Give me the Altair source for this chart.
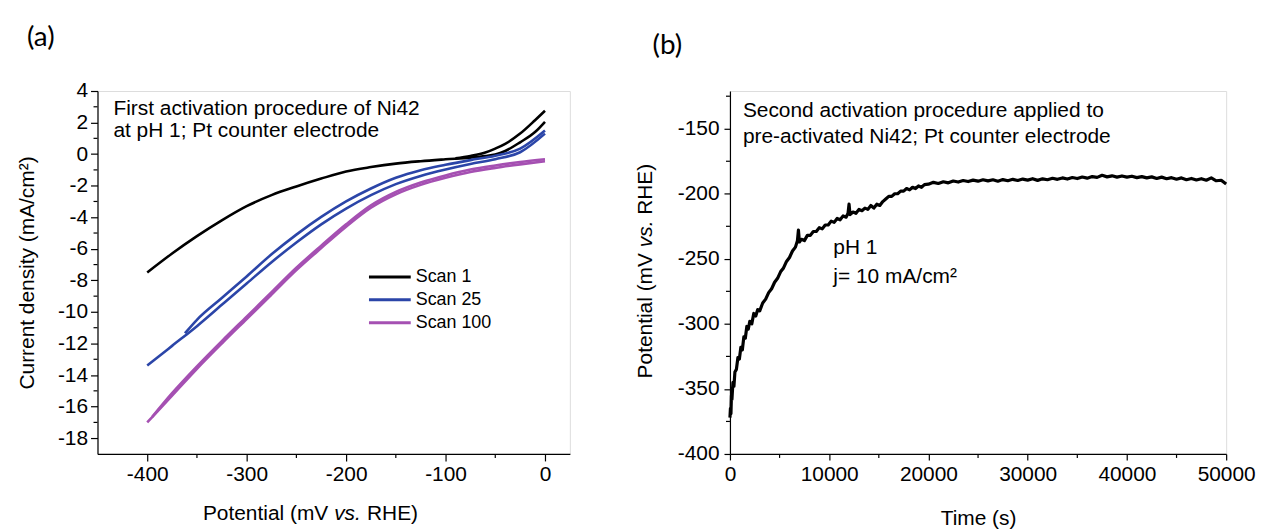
import altair as alt
import pandas as pd

# ---------------- Panel (a): current density vs potential ----------------
scan_names = ["Scan 1", "Scan 25", "Scan 100"]
scan_colors = ["#000000", "#2b45a8", "#a550b2"]

s1_fwd_E = [-400, -375, -350, -325, -300, -275, -250, -225, -200, -175, -150, -125, -100, -75, -60, -50, -40, -25, -10, 0]
s1_fwd_j = [-7.5, -6.3, -5.2, -4.2, -3.3, -2.6, -2.05, -1.55, -1.1, -0.82, -0.6, -0.45, -0.33, -0.22, -0.12, -0.02, 0.2, 0.75, 1.4, 2.05]
s1_rev_E = [0, -10, -25, -40, -50, -60, -75, -90]
s1_rev_j = [2.75, 2.15, 1.3, 0.65, 0.35, 0.1, -0.12, -0.27]

s25_fwd_E = [-400, -375, -350, -325, -300, -275, -250, -225, -200, -175, -150, -125, -100, -75, -50, -25, 0]
s25_fwd_j = [-13.4, -12.15, -10.9, -9.55, -8.2, -6.85, -5.6, -4.45, -3.45, -2.6, -1.9, -1.38, -0.97, -0.62, -0.32, 0.12, 1.3]
s25_rev_E = [0, -25, -50, -75, -100, -125, -150, -175, -200, -225, -250, -275, -300, -325, -350, -362]
s25_rev_j = [1.5, 0.35, -0.1, -0.38, -0.68, -1.02, -1.5, -2.18, -3.0, -3.98, -5.1, -6.35, -7.75, -9.12, -10.5, -11.35]

s100_fwd_E = [-400, -375, -350, -325, -300, -275, -250, -225, -200, -175, -150, -125, -100, -75, -50, -25, 0]
s100_fwd_j = [-17.0, -15.3, -13.6, -12.0, -10.45, -8.9, -7.35, -5.95, -4.6, -3.4, -2.55, -1.95, -1.5, -1.13, -0.87, -0.65, -0.45]
s100_rev_E = [0, -25, -50, -75, -100, -125, -150, -175, -200, -225, -250, -275, -300, -325, -350, -375, -395]
s100_rev_j = [-0.32, -0.5, -0.72, -0.98, -1.35, -1.8, -2.4, -3.25, -4.45, -5.8, -7.2, -8.75, -10.3, -11.85, -13.45, -15.15, -16.65]

a_x_ticks = [-400, -300, -200, -100, 0]
a_x_minor = [-350, -250, -150, -50]
a_y_ticks = [-18, -16, -14, -12, -10, -8, -6, -4, -2, 0, 2, 4]
a_y_minor = [-17, -15, -13, -11, -9, -7, -5, -3, -1, 1, 3]
a_note = ["First activation procedure of Ni42", "at pH 1; Pt counter electrode"]
a_xtitle_parts = ["Potential (mV", "vs.", "RHE)"]

# ---------------- Panel (b): potential vs time ----------------
b_time = [0, 50, 100, 150, 200, 300, 400, 500, 650, 800, 950, 1100, 1250, 1400, 1550, 1700, 1850, 2000,
          2200, 2400, 2600, 2800, 3000, 3300, 3600, 3900, 4200, 4500, 4800, 5100, 5400, 5700, 6000, 6300,
          6600, 6800, 6900, 7000, 7200, 7500, 7800, 8100, 8400, 8700, 9000, 9300, 9600, 9900, 10200, 10500,
          10800, 11100, 11400, 11700, 11900, 12000, 12100, 12400, 12700, 13000, 13300, 13600, 13900, 14200,
          14500, 14800, 15100, 15400, 15700, 16000, 16300, 16600, 16900, 17200, 17500, 17800, 18100, 18400,
          18700, 19000, 19300, 19600,
          20000, 20500, 21000, 21500, 22000, 22500, 23000, 23500, 24000, 24500, 25000, 25500, 26000, 26500,
          27000, 27500, 28000, 28500, 29000, 29500, 30000, 30500, 31000, 31500, 32000, 32500, 33000, 33500,
          34000, 34500, 35000, 35500, 36000, 36500, 37000, 37500, 38000, 38500, 39000, 39500, 40000, 40500,
          41000, 41500, 42000, 42500, 43000, 43500, 44000, 44500, 45000, 45500, 46000, 46500, 47000, 47500,
          48000, 48500, 49000, 49500, 50000]
b_potential = [-372, -365, -369, -355, -358, -345, -348, -337, -335, -326, -327, -318, -320, -310, -311, -302, -304, -298,
               -300, -292, -294, -289, -290, -284, -281, -276, -273, -268, -265, -260, -257, -252, -249, -244,
               -241, -236, -228, -237, -235, -236, -232, -232, -229, -229, -226, -227, -224, -224, -221, -222,
               -219, -220, -217, -218, -215, -208, -216, -214, -215, -212, -213, -211, -212, -209,
               -211, -208, -209, -206, -204, -202, -202, -200, -200, -198, -198, -196, -197, -195,
               -196, -194, -195, -193,
               -192.6, -191.2, -192.1, -190.8, -191.6, -190.2, -191.0, -189.8, -190.6, -189.5, -190.3, -189.2, -190.1, -189.2,
               -190.3, -189.1, -190.0, -188.9, -189.8, -188.7, -189.5, -188.4, -189.7, -188.5, -189.2, -188.1, -188.9, -187.8,
               -188.7, -187.5, -188.3, -187.1, -188.0, -186.8, -187.4, -185.8, -187.0, -186.2, -187.2, -186.3, -187.2, -186.5,
               -187.6, -186.8, -187.8, -187.0, -188.2, -187.2, -188.4, -187.6, -188.8, -187.8, -189.2, -188.2, -189.4, -188.4,
               -189.6, -187.8, -190.0, -189.6, -192.5]
assert len(b_time) == len(b_potential)

b_x_ticks = [0, 10000, 20000, 30000, 40000, 50000]
b_x_minor = [5000, 15000, 25000, 35000, 45000]
b_y_ticks = [-400, -350, -300, -250, -200, -150]
b_y_minor = [-375, -325, -275, -225, -175, -125]
b_note = ["Second activation procedure applied to", "pre-activated Ni42; Pt counter electrode"]
b_note2 = ["pH 1", "j= 10 mA/cm²"]
b_ytitle_parts = ["Potential (mV", "vs.", "RHE)"]

# ---------------- build tables ----------------
rows = []
def add(scan, branch, Es, js):
    for E, j in zip(Es, js):
        rows.append({"scan": scan, "branch": branch, "idx": len(rows), "E": E, "j": j})

add("Scan 1", "s1f", s1_fwd_E, s1_fwd_j)
add("Scan 1", "s1r", s1_rev_E, s1_rev_j)
add("Scan 25", "s25f", s25_fwd_E, s25_fwd_j)
add("Scan 25", "s25r", s25_rev_E, s25_rev_j)
add("Scan 100", "s100f", s100_fwd_E, s100_fwd_j)
add("Scan 100", "s100r", s100_rev_E, s100_rev_j)
df_a = pd.DataFrame(rows)
df_b = pd.DataFrame({"t": b_time, "V": b_potential})

# ---------------- style / layout ----------------
FONT = "Liberation Sans"
W_A, W_B, H = 475, 499, 365
ONE = pd.DataFrame({"k": [0]})


def axis(values, title=None, tick=7, lpad=3, tpad=15):
    return alt.Axis(values=values, title=title, labelExpr="'' + datum.value", grid=False,
                    tickSize=tick, tickWidth=1.2, tickColor="black", domainColor="black",
                    domainWidth=1.2, labelFont=FONT, labelFontSize=21, labelColor="black",
                    labelPadding=lpad, titleFont=FONT, titleFontSize=21, titleFontWeight="normal",
                    titleColor="black", titlePadding=tpad, labelFlush=False, labelOverlap=False)


def txt(s, x, y, size=21, align="left", style="normal", angle=0, font=FONT, baseline="alphabetic"):
    m = alt.Chart(ONE).mark_text(text=s, font=font, fontSize=size, align=align, baseline=baseline,
                                 fontStyle=style, angle=angle, color="black")
    return m.encode(x=alt.value(x), y=alt.value(y))


# ----- panel (a) -----
xa = lambda f: alt.X(f, scale=alt.Scale(domain=[-450, 25], nice=False, zero=False),
                     axis=axis(a_x_ticks, None, 7, 3))
ya = lambda f: alt.Y(f, scale=alt.Scale(domain=[-19, 4], nice=False, zero=False),
                     axis=axis(a_y_ticks, "Current density (mA/cm²)", 7, 3, 20))

lines_a = alt.Chart(df_a).mark_line(strokeWidth=2.6, interpolate="monotone").encode(
    x=xa("E:Q"), y=ya("j:Q"),
    color=alt.Color("scan:N", scale=alt.Scale(domain=scan_names, range=scan_colors), legend=None),
    detail="branch:N", order="idx:Q")
minor_ya = alt.Chart(pd.DataFrame({"j": a_y_minor})).mark_rule(color="black", strokeWidth=1.2).encode(
    y=ya("j:Q"), x=alt.value(-4), x2=alt.value(0))
minor_xa = alt.Chart(pd.DataFrame({"E": a_x_minor})).mark_rule(color="black", strokeWidth=1.2).encode(
    x=xa("E:Q"), y=alt.value(H), y2=alt.value(H + 4))

layers_a = [lines_a, minor_ya, minor_xa]
for i, line in enumerate(a_note):
    layers_a.append(txt(line, 16, 24 + 22 * i))
for i, (name, col) in enumerate(zip(scan_names, scan_colors)):
    yy = 187 + 23 * i
    layers_a.append(alt.Chart(ONE).mark_rule(color=col, strokeWidth=3).encode(
        x=alt.value(273), x2=alt.value(315), y=alt.value(yy)))
    layers_a.append(txt(name, 320, yy, size=18, baseline="middle"))
for s, x, al, st in zip(a_xtitle_parts, [232, 238, 271], ["right", "left", "left"], ["normal", "italic", "normal"]):
    layers_a.append(txt(s, x, 431, align=al, style=st))
layers_a.append(txt("(a)", -57, -53, size=28, align="center", baseline="middle", font="Lato"))

chart_a = alt.layer(*layers_a).properties(width=W_A, height=H)

# ----- panel (b) -----
xb = lambda f: alt.X(f, scale=alt.Scale(domain=[0, 50000], nice=False, zero=False),
                     axis=axis(b_x_ticks, "Time (s)", 6, 4, 23))
yb = lambda f: alt.Y(f, scale=alt.Scale(domain=[-400, -121], nice=False, zero=False),
                     axis=axis(b_y_ticks, None, 6, 5))

line_b = alt.Chart(df_b).mark_line(color="black", strokeWidth=3.2, strokeJoin="round").encode(
    x=xb("t:Q"), y=yb("V:Q"))
minor_yb = alt.Chart(pd.DataFrame({"V": b_y_minor})).mark_rule(color="black", strokeWidth=1.2).encode(
    y=yb("V:Q"), x=alt.value(-4), x2=alt.value(0))
minor_xb = alt.Chart(pd.DataFrame({"t": b_x_minor})).mark_rule(color="black", strokeWidth=1.2).encode(
    x=xb("t:Q"), y=alt.value(H), y2=alt.value(H + 4))

layers_b = [line_b, minor_yb, minor_xb]
for i, line in enumerate(b_note):
    layers_b.append(txt(line, 13, 26 + 26 * i))
for i, line in enumerate(b_note2):
    layers_b.append(txt(line, 104, 164 + 29 * i))
for s, y, al, st in zip(b_ytitle_parts, [163, 157, 124.5], ["right", "left", "left"], ["normal", "italic", "normal"]):
    layers_b.append(txt(s, -78, y, align=al, style=st, angle=270))
layers_b.append(txt("(b)", -63, -45, size=28, align="center", baseline="middle", font="Lato"))

chart_b = alt.layer(*layers_b).properties(width=W_B, height=H)

chart = alt.hconcat(chart_a, chart_b, spacing=161, bounds="flush").properties(
    padding={"left": 8, "top": 14, "right": 0, "bottom": 0}
).configure_view(stroke="black", strokeWidth=1.2).configure(background="white")

chart.save("out.html", embed_options={"renderer": "svg", "actions": False})
